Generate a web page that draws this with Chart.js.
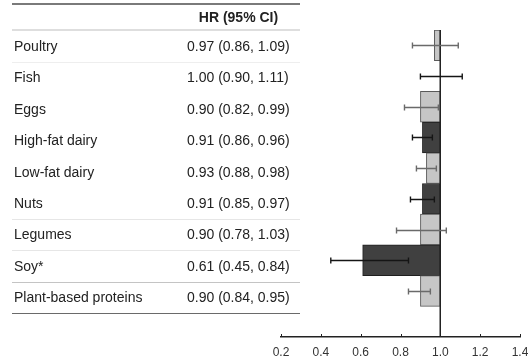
<!DOCTYPE html>
<html>
<head>
<meta charset="utf-8">
<script src="https://cdn.jsdelivr.net/npm/chart.js@4.4.1/dist/chart.umd.min.js"></script>
<style>
  html, body { margin: 0; padding: 0; background: #fff; }
  #wrap { position: relative; width: 528px; height: 359px; overflow: hidden;
          font-family: "Liberation Sans", Arial, sans-serif; color: #222; }
  #myChart { position: absolute; left: 0; top: 0; }
  .line { position: absolute; left: 12px; width: 288px; }
  .cell { position: absolute; font-size: 14px; white-space: nowrap; }
</style>
</head>
<body>
<div id="wrap">
  <canvas id="myChart" width="528" height="359"></canvas>
  <div id="tbl"></div>
</div>
<script>
const categories = ["Poultry", "Fish", "Eggs", "High-fat dairy", "Low-fat dairy", "Nuts", "Legumes", "Soy*", "Plant-based proteins"];
const hr = [0.97, 1.00, 0.90, 0.91, 0.93, 0.91, 0.90, 0.61, 0.90];
const lower = [0.86, 0.90, 0.82, 0.86, 0.88, 0.85, 0.78, 0.45, 0.84];
const upper = [1.09, 1.11, 0.99, 0.96, 0.98, 0.97, 1.03, 0.84, 0.95];
const xTicks = [0.2, 0.4, 0.6, 0.8, 1.0, 1.2, 1.4];

// styling (not data)
const lightFill = "#c6c6c6", darkFill = "#404040";
const rowTop = 31, rowH = 31.4;
const sepAfter = { 0: "#eeeeee", 5: "#e6e6e6", 6: "#e6e6e6", 7: "#c4c4c4" };

const fmt = (v) => v.toFixed(2);

// ---- table (left side) ----
const tbl = document.getElementById("tbl");
const addLine = (top, h, color) => {
  const d = document.createElement("div");
  d.className = "line";
  d.style.top = top + "px";
  d.style.height = h + "px";
  d.style.background = color;
  tbl.appendChild(d);
};
const addCell = (text, left, top, width, opts = {}) => {
  const d = document.createElement("div");
  d.className = "cell";
  d.textContent = text;
  d.style.left = left + "px";
  d.style.top = top + "px";
  const h = opts.h || rowH;
  d.style.height = h + "px";
  d.style.lineHeight = h + "px";
  if (width) { d.style.width = width + "px"; d.style.textAlign = "center"; }
  if (opts.bold) d.style.fontWeight = "bold";
  tbl.appendChild(d);
};

addLine(3, 1.5, "#7a7a7a");
addCell("HR (95% CI)", 187, 4.5, 103, { bold: true, h: 25 });
addLine(29, 2, "#dedede");
categories.forEach((c, i) => {
  const top = rowTop + i * rowH;
  addCell(c, 14, top);
  addCell(`${fmt(hr[i])} (${fmt(lower[i])}, ${fmt(upper[i])})`, 187, top);
  if (sepAfter[i]) addLine(top + rowH - 0.5, 1, sepAfter[i]);
});
addLine(rowTop + categories.length * rowH - 1, 1.5, "#6a6a6a");

// ---- chart (right side) ----
const barColors = hr.map((_, i) => (i % 2 === 0 ? lightFill : darkFill));
const barBorders = hr.map((_, i) => (i % 2 === 0 ? "#5a5a5a" : "#1e1e1e"));
const errColors = hr.map((_, i) => (i % 2 === 0 ? "#6a6a6a" : "#151515"));

const forestLines = {
  id: "forestLines",
  afterDatasetsDraw(chart) {
    const { ctx, chartArea, scales: { x, y } } = chart;
    ctx.save();
    // reference line at HR = 1
    const x1 = Math.round(x.getPixelForValue(1.0)) + 0.25;
    ctx.strokeStyle = "#222";
    ctx.lineWidth = 1.5;
    ctx.beginPath();
    ctx.moveTo(x1, chartArea.top);
    ctx.lineTo(x1, chartArea.bottom);
    ctx.stroke();

    // confidence intervals
    ctx.lineWidth = 1.4;
    lower.forEach((lo, i) => {
      const yy = Math.round(y.getPixelForValue(i)) + 0.5;
      const xa = x.getPixelForValue(lo);
      const xb = x.getPixelForValue(upper[i]);
      ctx.strokeStyle = errColors[i];
      ctx.beginPath();
      ctx.moveTo(xa, yy); ctx.lineTo(xb, yy);
      ctx.moveTo(xa, yy - 3); ctx.lineTo(xa, yy + 3);
      ctx.moveTo(xb, yy - 3); ctx.lineTo(xb, yy + 3);
      ctx.stroke();
    });

    // tick marks pointing up from the axis
    ctx.strokeStyle = "#222";
    ctx.lineWidth = 1;
    xTicks.forEach((t) => {
      const xt = Math.round(x.getPixelForValue(t)) + 0.5;
      ctx.beginPath();
      ctx.moveTo(xt, chartArea.bottom);
      ctx.lineTo(xt, chartArea.bottom - 3);
      ctx.stroke();
    });
    ctx.restore();
  },
};

const ctx = document.getElementById("myChart").getContext("2d");
const myChart = new Chart(ctx, {
  type: "bar",
  data: {
    labels: [...categories, ""],
    datasets: [
      {
        label: "HR",
        data: hr.map((v) => [1.0, v]),
        backgroundColor: barColors,
        borderColor: barBorders,
        borderWidth: 1,
        borderSkipped: false,
        categoryPercentage: 1,
        barPercentage: 1,
      },
    ],
  },
  options: {
    indexAxis: "y",
    responsive: false,
    animation: false,
    layout: { padding: { left: 281, right: 8, top: 30, bottom: 0 } },
    plugins: { legend: { display: false }, tooltip: { enabled: false } },
    scales: {
      x: {
        min: 0.2,
        max: 1.4,
        afterBuildTicks: (axis) => { axis.ticks = xTicks.map((v) => ({ value: v })); },
        afterFit: (axis) => { axis.height = 22; axis.paddingLeft = 0; axis.paddingRight = 0; },
        grid: { display: false, drawTicks: false },
        border: { display: true, color: "#222", width: 1.5 },
        ticks: {
          padding: 8,
          color: "#333",
          font: { family: "'Liberation Sans', Arial, sans-serif", size: 12 },
          callback: (v) => Number(v).toFixed(1),
        },
      },
      y: { display: false },
    },
  },
  plugins: [forestLines],
});
</script>
</body>
</html>
